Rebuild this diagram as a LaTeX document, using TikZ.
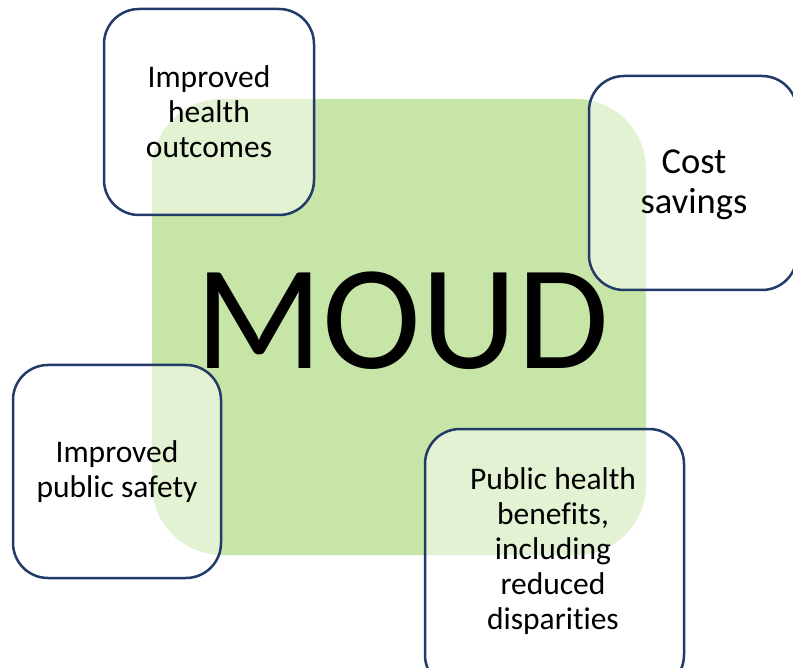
\documentclass[tikz,border=0pt]{standalone}
\usepackage{fontspec}
\setmainfont{Carlito}[Ligatures={CommonOff}]
\definecolor{moudgreen}{HTML}{C8E5A8}
\definecolor{boxnavy}{HTML}{223B68}
\begin{document}
\begin{tikzpicture}[x=1pt,y=-1pt,
  greenbox/.style={fill=moudgreen, draw=none, rounded corners=70pt, inner sep=0pt},
  outcomebox/.style={draw=boxnavy, line width=2.5pt, rounded corners=35pt, fill=white, fill opacity=0.5, text opacity=1, inner sep=0pt, align=center, font=\fontsize{31.5}{35}\selectfont},
  outcometext/.style={inner sep=0pt, align=center, font=\fontsize{31.5}{35}\selectfont},
  bigtext/.style={inner sep=0pt, font=\fontsize{149}{160}\selectfont}]
\useasboundingbox (0,0) rectangle (793,668);
\clip (0,0) rectangle (793,668);
\node[greenbox, minimum width=494pt, minimum height=456pt] (core) at (399,327) {};
\node[outcomebox, minimum width=210pt, minimum height=206pt] (health) at (209,112) {Improved\\health\\outcomes};
\node[outcomebox, minimum width=208pt, minimum height=214pt] (cost) at (693,183) {};
\node[outcometext, font=\fontsize{36.5}{40}\selectfont] (costtext) at (694,185) {Cost\\savings};
\node[outcomebox, minimum width=208pt, minimum height=213pt] (safety) at (117,471.5) {Improved\\public safety};
\node[outcomebox, minimum width=259pt, minimum height=261pt] (public) at (554.5,559.5) {};
\node[outcometext] (publictext) at (553,551) {Public health\\benefits,\\including\\reduced\\disparities};
\node[bigtext, anchor=base] (moud) at (402,369) {MOUD};
\end{tikzpicture}
\end{document}
